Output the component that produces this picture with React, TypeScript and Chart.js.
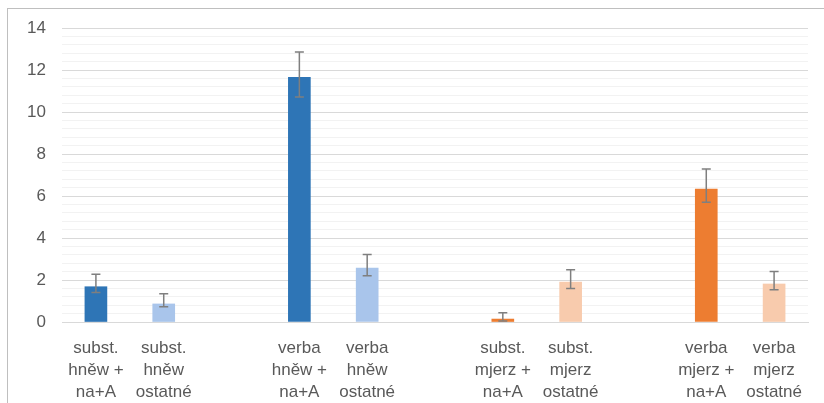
import React, { useEffect, useRef } from "react";
import { Chart, registerables } from "chart.js";

Chart.register(...registerables);

const categories: (string | string[])[] = [
  ["subst.", "hněw +", "na+A"],
  ["subst.", "hněw", "ostatné"],
  "",
  ["verba", "hněw +", "na+A"],
  ["verba", "hněw", "ostatné"],
  "",
  ["subst.", "mjerz +", "na+A"],
  ["subst.", "mjerz", "ostatné"],
  "",
  ["verba", "mjerz +", "na+A"],
  ["verba", "mjerz", "ostatné"],
];

const values: (number | null)[] = [1.68, 0.86, null, 11.65, 2.57, null, 0.14, 1.9, null, 6.33, 1.81];
const errorHigh: (number | null)[] = [2.27, 1.35, null, 12.86, 3.22, null, 0.44, 2.49, null, 7.29, 2.4];
const errorLow: (number | null)[] = [1.41, 0.73, null, 10.71, 2.2, null, 0.05, 1.6, null, 5.7, 1.54];
const barColors: string[] = [
  "#2E75B6", "#A9C5EB", "#FFFFFF",
  "#2E75B6", "#A9C5EB", "#FFFFFF",
  "#ED7D31", "#F8CBAD", "#FFFFFF",
  "#ED7D31", "#F8CBAD",
];
const yTickStep = 0.4;
const yMax = 14;

const errorBarPlugin = {
  id: "errorBars",
  afterDatasetsDraw(chart: any) {
    const ctx = chart.ctx;
    const xs = chart.scales.x;
    const ys = chart.scales.y;
    ctx.save();
    ctx.strokeStyle = "#7F7F7F";
    ctx.lineWidth = 1.5;
    for (let i = 0; i < values.length; i++) {
      const hi = errorHigh[i];
      const lo = errorLow[i];
      if (values[i] == null || hi == null || lo == null) continue;
      const x = xs.getPixelForValue(i);
      const yH = ys.getPixelForValue(hi);
      const yL = ys.getPixelForValue(lo);
      ctx.beginPath();
      ctx.moveTo(x, yH);
      ctx.lineTo(x, yL);
      ctx.moveTo(x - 4.5, yH);
      ctx.lineTo(x + 4.5, yH);
      ctx.moveTo(x - 4.5, yL);
      ctx.lineTo(x + 4.5, yL);
      ctx.stroke();
    }
    ctx.restore();
  },
};

export default function App() {
  const ref = useRef<HTMLCanvasElement | null>(null);
  useEffect(() => {
    if (!ref.current) return;
    const chart = new Chart(ref.current, {
      type: "bar",
      data: {
        labels: categories,
        datasets: [
          {
            data: values,
            backgroundColor: barColors,
            barThickness: 22,
          },
        ],
      },
      options: {
        animation: false,
        responsive: false,
        layout: { padding: { left: 0, top: 28, right: 16, bottom: 0 } },
        plugins: { legend: { display: false }, tooltip: { enabled: false } },
        scales: {
          x: {
            afterFit(scale: any) {
              scale.height = 81;
            },
            grid: { display: false, drawTicks: false },
            border: { display: true, color: "#D9D9D9", width: 1 },
            ticks: {
              autoSkip: false,
              maxRotation: 0,
              minRotation: 0,
              padding: 15,
              color: "#595959",
              font: { family: "'Liberation Sans', Arial, sans-serif", size: 17, lineHeight: 22 / 17 },
            },
          },
          y: {
            min: 0,
            max: yMax,
            afterFit(scale: any) {
              scale.width = 62;
            },
            border: { display: false },
            grid: {
              drawTicks: false,
              lineWidth: 1,
              color: (c: any) => {
                const v = c.tick ? c.tick.value : 0;
                const r = Math.round(v);
                return Math.abs(v - r) < 1e-6 && r % 2 === 0 ? "#D9D9D9" : "#F2F2F2";
              },
            },
            ticks: {
              stepSize: yTickStep,
              autoSkip: false,
              padding: 16,
              color: "#595959",
              font: { family: "'Liberation Sans', Arial, sans-serif", size: 17 },
              callback: (v: any) => {
                const n = Number(v);
                const r = Math.round(n);
                return Math.abs(n - r) < 1e-6 && r % 2 === 0 ? String(r) : "";
              },
            },
          },
        },
      },
      plugins: [errorBarPlugin],
    });
    return () => chart.destroy();
  }, []);

  return (
    <div style={{ position: "fixed", left: 0, top: 0, width: 824, height: 403, background: "#FFFFFF", overflow: "hidden" }}>
      <div
        style={{
          position: "absolute",
          left: 7,
          top: 8,
          width: 840,
          height: 420,
          border: "1px solid #BFBFBF",
          pointerEvents: "none",
        }}
      />
      <canvas ref={ref} width={824} height={403} style={{ position: "absolute", left: 0, top: 0 }} />
    </div>
  );
}
